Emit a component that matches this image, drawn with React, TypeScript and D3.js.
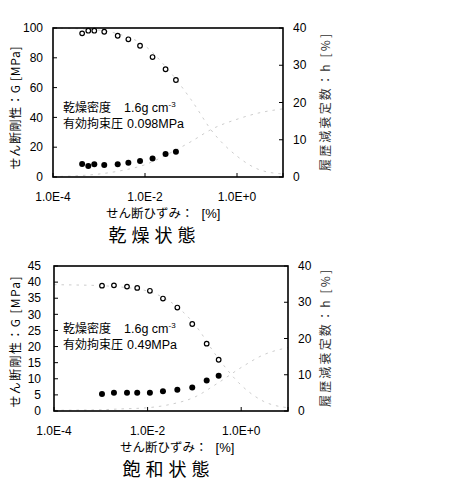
import React from 'react';
import * as d3 from 'd3';

// 乾燥状態 (dry)
const dryStrain = [4.3e-4, 5.85e-4, 7.9e-4, 1.3e-3, 2.55e-3, 4.35e-3, 7.8e-3, 1.46e-2, 2.8e-2, 4.7e-2];
const dryG = [96.4, 98.2, 98.2, 97.5, 94.8, 92.4, 88.1, 80.5, 72.3, 65.1];
const dryH = [3.5, 2.95, 3.4, 3.2, 3.4, 3.85, 4.3, 5.0, 6.2, 6.8];

// 飽和状態 (saturated)
const satStrain = [1.06e-3, 1.91e-3, 3.63e-3, 6.0e-3, 1.12e-2, 2.13e-2, 4.32e-2, 9.0e-2, 0.183, 0.33];
const satG = [38.9, 39.0, 38.6, 38.2, 37.3, 34.9, 32.1, 27.0, 20.9, 15.9];
const satH = [4.7, 5.05, 5.05, 5.05, 5.05, 5.45, 5.85, 6.45, 8.4, 9.7];

// faint dotted model curves
const fitStrain = [1e-4, 3e-4, 1e-3, 3e-3, 1e-2, 3e-2, 1e-1, 3e-1, 1, 3, 10];
const dryGFit = [100, 99.6, 98.6, 95.5, 88, 73, 52, 30, 14, 5, 2];
const dryHFit = [0.1, 0.3, 0.8, 1.7, 3.3, 6, 9.5, 13, 15.5, 17.2, 18.3];
const satGFit = [39.2, 39.1, 38.9, 38.4, 37.2, 34, 27, 17, 8, 3, 1];
const satHFit = [0.2, 0.25, 0.35, 0.6, 0.9, 1.8, 3.8, 7.5, 12, 15.5, 17.5];

const xTicks = [1e-4, 1e-2, 1, 10];
const xTickLabels = ['1.0E-4', '1.0E-2', '1.0E+0', ''];
const dryGTicks = [0, 20, 40, 60, 80, 100];
const satGTicks = [0, 5, 10, 15, 20, 25, 30, 35, 40, 45];
const hTicks = [0, 10, 20, 30, 40];

const LAT = '"Liberation Sans", Arial, sans-serif';
const JP = '"Noto Sans CJK JP", sans-serif';

function Panel(p: any) {
  const x = d3.scaleLog().domain([1e-4, 10]).range([p.left, p.right]);
  const yG = d3.scaleLinear().domain([0, p.gMax]).range([p.bottom, p.top]);
  const yH = d3.scaleLinear().domain([0, 40]).range([p.bottom, p.top]);
  const lineG = d3.line<number>().x((_, i) => x(fitStrain[i])).y(d => yG(d)).curve(d3.curveMonotoneX);
  const lineH = d3.line<number>().x((_, i) => x(fitStrain[i])).y(d => yH(d)).curve(d3.curveMonotoneX);
  const midY = (p.top + p.bottom) / 2;
  return (
    <g>
      <path d={lineG(p.gFit) || ''} fill="none" stroke="#aaa" strokeWidth={0.6} strokeDasharray="2.5,5" />
      <path d={lineH(p.hFit) || ''} fill="none" stroke="#aaa" strokeWidth={0.6} strokeDasharray="2.5,5" />
      <rect x={p.left} y={p.top} width={p.right - p.left} height={p.bottom - p.top} fill="none" stroke="#000" strokeWidth={1.6} />
      {p.gTicks.map((t: number) => (
        <g key={'g' + t}>
          <line x1={p.left} x2={p.left + 4} y1={yG(t)} y2={yG(t)} stroke="#000" strokeWidth={1} />
          <text x={p.left - p.labelGap} y={yG(t)} dy="0.35em" textAnchor="end" fontFamily={LAT} fontSize={12}>{t}</text>
        </g>
      ))}
      {hTicks.map(t => (
        <g key={'h' + t}>
          <line x1={p.right - 4} x2={p.right} y1={yH(t)} y2={yH(t)} stroke="#000" strokeWidth={1} />
          <text x={p.right + 10} y={yH(t)} dy="0.35em" textAnchor="start" fontFamily={LAT} fontSize={12}>{t}</text>
        </g>
      ))}
      {xTicks.map((t, i) => (
        <g key={'x' + t}>
          <line x1={x(t)} x2={x(t)} y1={p.bottom} y2={p.bottom - 4} stroke="#000" strokeWidth={1} />
          <text x={x(t)} y={p.bottom + 24} textAnchor="middle" fontFamily={LAT} fontSize={12}>{xTickLabels[i]}</text>
        </g>
      ))}
      {p.strain.map((s: number, i: number) => (
        <circle key={'o' + i} cx={x(s)} cy={yG(p.g[i])} r={2.3} fill="#fff" stroke="#000" strokeWidth={1.2} />
      ))}
      {p.strain.map((s: number, i: number) => (
        <circle key={'f' + i} cx={x(s)} cy={yH(p.h[i])} r={3} fill="#000" />
      ))}
      <text x={63} y={p.noteY} fontSize={12} fontFamily={JP}>
        乾燥密度<tspan fontFamily={LAT} fontSize={12.5} dx={13}>1.6g cm</tspan>
        <tspan fontFamily={LAT} fontSize={8} dy={-5}>-3</tspan>
      </text>
      <text x={63} y={p.noteY + 16} fontSize={12} fontFamily={JP}>
        有効拘束圧<tspan fontFamily={LAT} fontSize={12.5} dx={4}>{p.pressure}</tspan>
      </text>
      <text transform={`translate(20,${p.gTitleY}) rotate(-90)`} textAnchor="middle" fontSize={12} fontFamily={JP}
        textLength={p.gTitleLen} lengthAdjust="spacing">せん断剛性：G [MPa]</text>
      <text transform={`translate(330,${midY}) rotate(-90)`} textAnchor="middle" fontSize={12} fontFamily={JP}
        textLength={137} lengthAdjust="spacing" fill="#333">履歴減衰定数：h [%]</text>
      <text x={p.xTitleX} y={p.bottom + 41} fontSize={12.5} fontFamily={JP}>
        せん断ひずみ：<tspan fontFamily={LAT} fontSize={13} dx={8}>[%]</tspan>
      </text>
      <text x={p.titleX} y={p.bottom + 65} textAnchor="middle" fontSize={18} fontFamily={JP}
        textLength={87} lengthAdjust="spacing">{p.title}</text>
    </g>
  );
}

export default function App() {
  return (
    <svg width={476} height={482} style={{ position: 'absolute', left: 0, top: 0, background: '#fff' }}>
      <Panel left={53} right={283} top={28} bottom={177} gMax={100} gTicks={dryGTicks} labelGap={10}
        strain={dryStrain} g={dryG} h={dryH} gFit={dryGFit} hFit={dryHFit}
        noteY={112} pressure="0.098MPa" gTitleY={108} gTitleLen={123} xTitleX={106} titleX={152} title="乾燥状態" />
      <Panel left={54} right={288} top={266} bottom={411} gMax={45} gTicks={satGTicks} labelGap={13}
        strain={satStrain} g={satG} h={satH} gFit={satGFit} hFit={satHFit}
        noteY={333} pressure="0.49MPa" gTitleY={342} gTitleLen={131} xTitleX={120} titleX={166} title="飽和状態" />
    </svg>
  );
}
